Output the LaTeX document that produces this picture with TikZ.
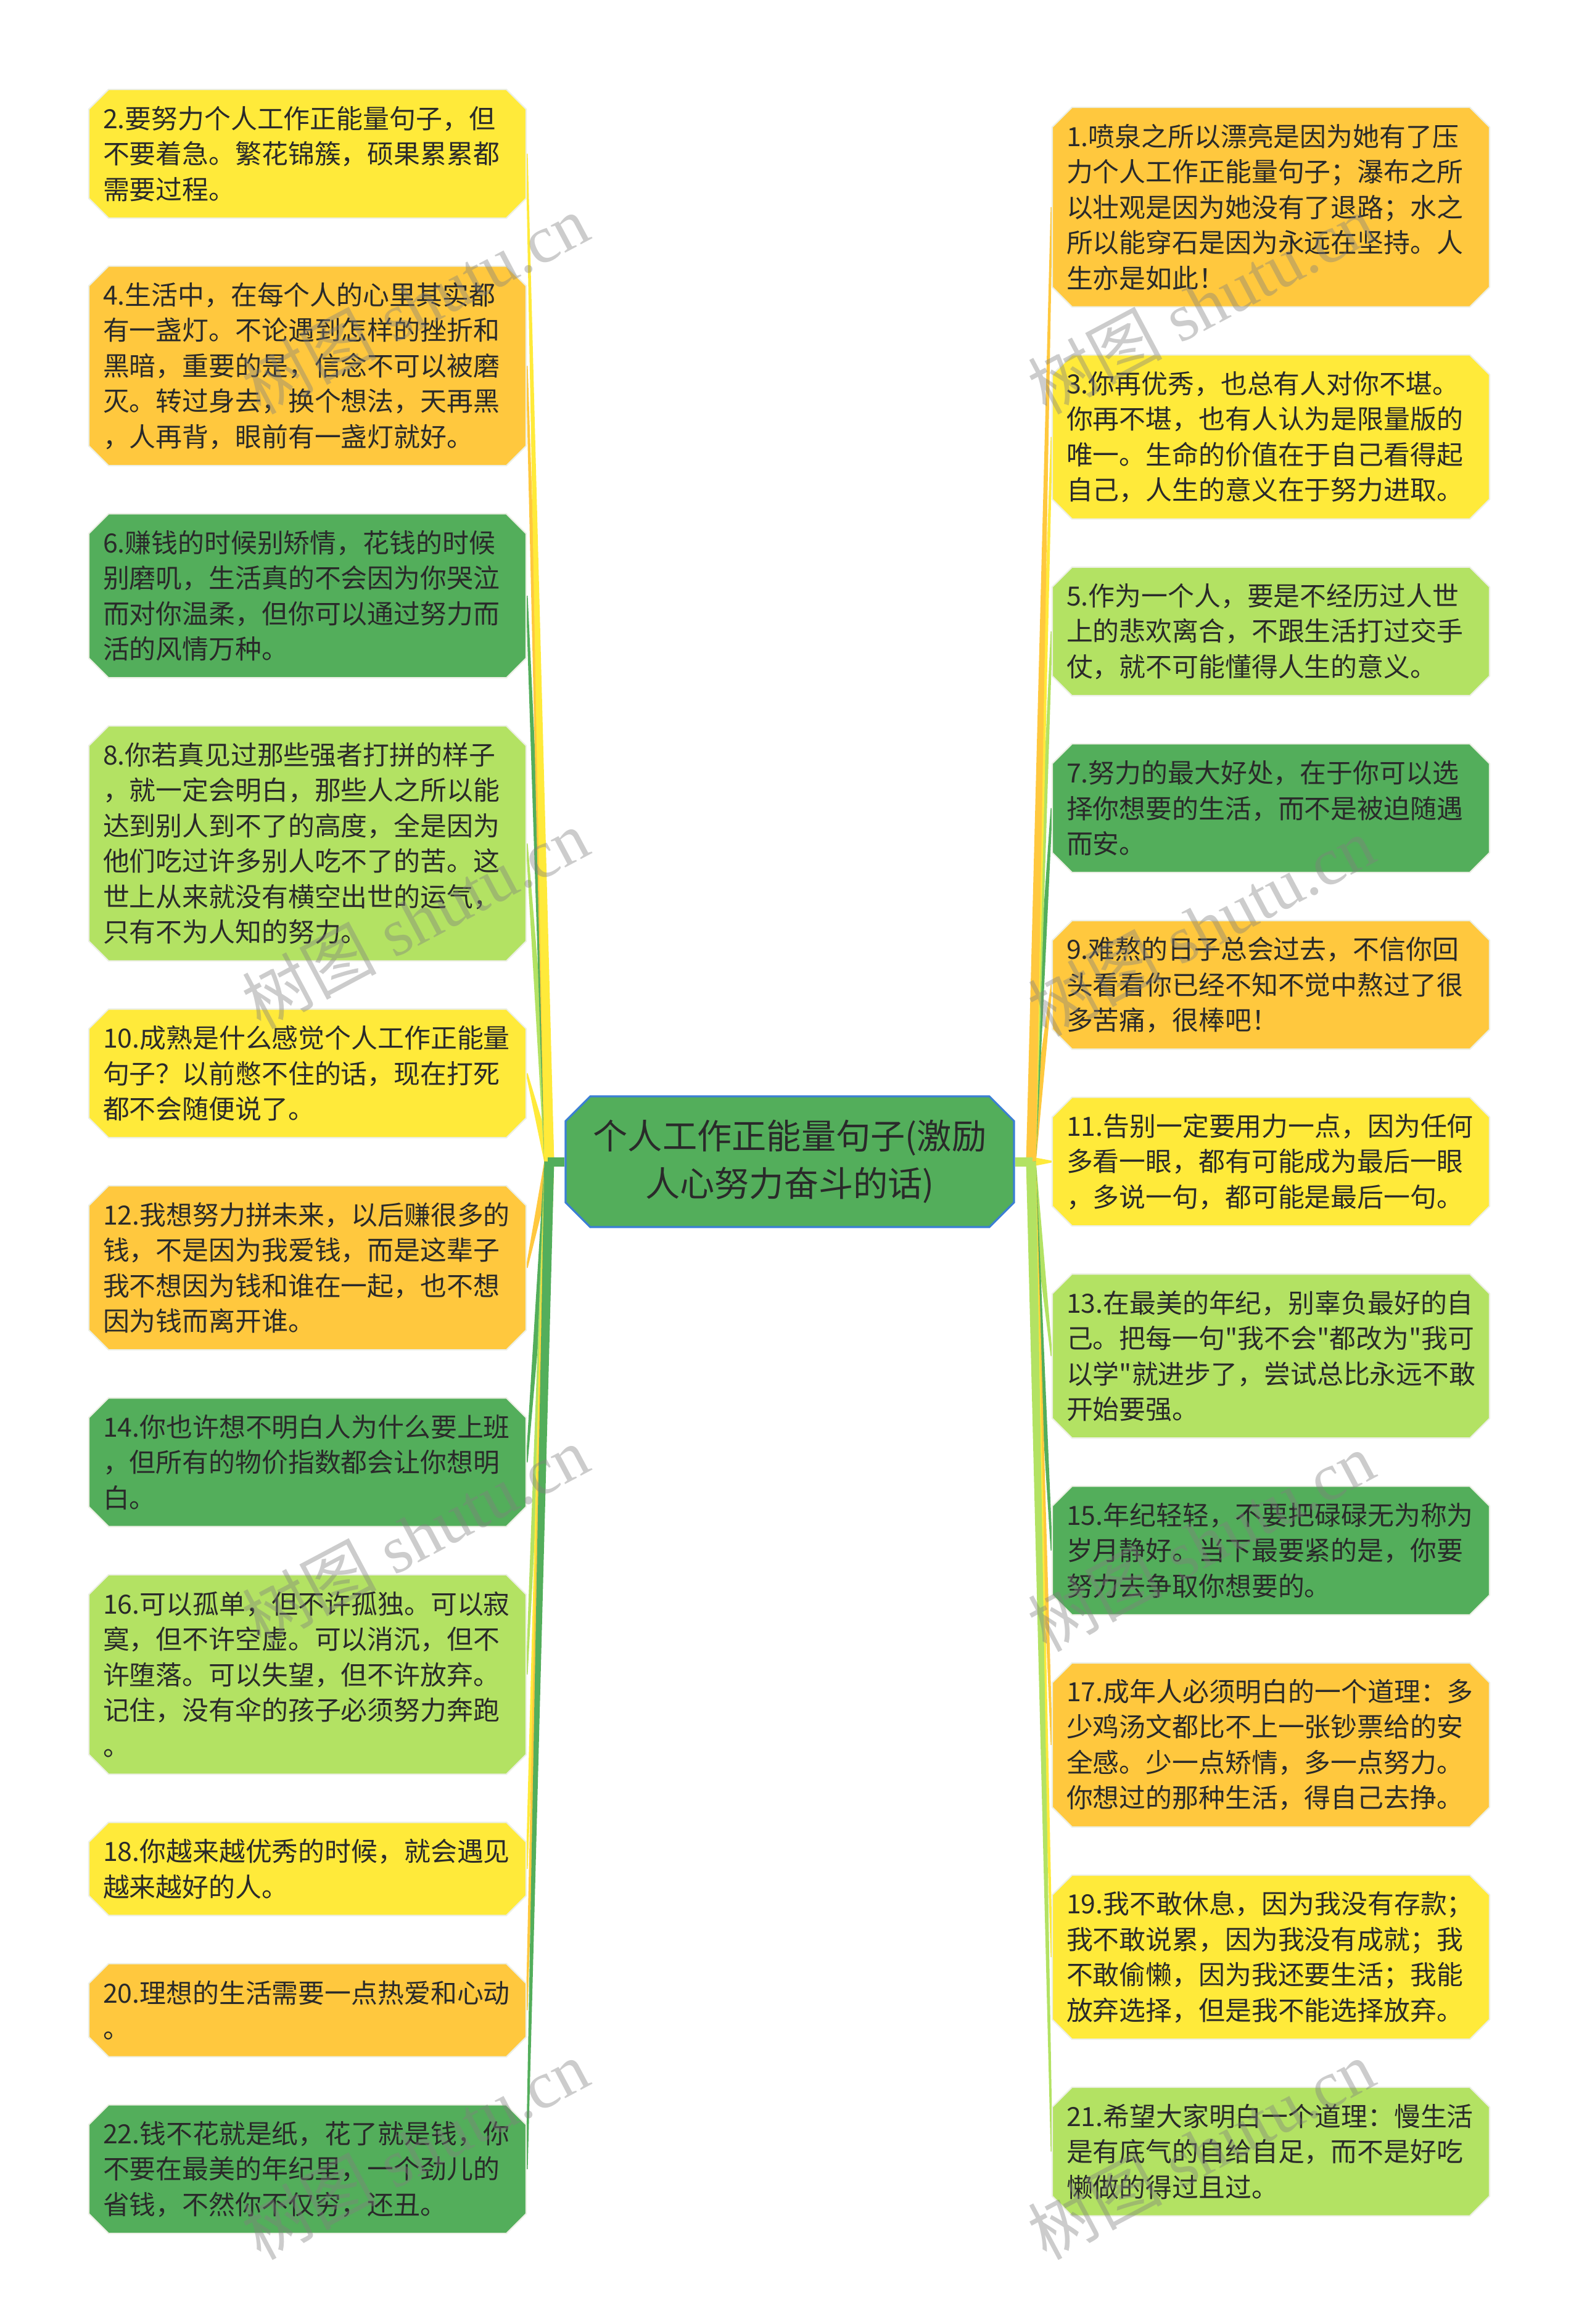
\documentclass[tikz,border=0pt]{standalone}
\usepackage{fontspec}
\newfontfamily\cjk{Noto Sans CJK SC}
\newfontfamily\wmserif{Liberation Serif}
\usetikzlibrary{positioning,calc,shapes.misc,backgrounds}
\definecolor{Sun}{HTML}{FFEA3A}
\definecolor{Amber}{HTML}{FFC83E}
\definecolor{Lime}{HTML}{B3E263}
\definecolor{Leaf}{HTML}{53AE5B}
\definecolor{Frame}{HTML}{3B7FD4}
\definecolor{Ink}{HTML}{2A2A2A}
\definecolor{Rim}{HTML}{ECEFE4}
\tikzset{
  quotebox/.style={chamfered rectangle,chamfered rectangle xsep=0.16cm,chamfered rectangle ysep=0.16cm,draw=Rim,line width=0.6pt,fill=#1,minimum width=7.08cm,text width=6.63cm,inner xsep=0.07cm,inner ysep=0pt,align=left,font=\cjk\fontsize{12.2pt}{16.36pt}\selectfont,text=Ink},
  nlines/.style={minimum height={#1*0.575cm+0.36cm}},
  topicbox/.style={chamfered rectangle,chamfered rectangle xsep=0.2cm,chamfered rectangle ysep=0.2cm,draw=Frame,line width=0.9pt,fill=Leaf,minimum width=7.27cm,minimum height=2.12cm,align=center,font=\cjk\fontsize{16pt}{21.8pt}\selectfont,text=Ink},
  stub/.style={line width=0.15cm},
  wmark/.style={rotate=28,text=black!50,text opacity=0.4,font=\wmserif\fontsize{31pt}{31pt}\selectfont}
}
\newcommand\branch[3]{\fill[#1] ($(#2)!0.08cm!90:(#3)$) -- ($(#3)!0.015cm!-90:(#2)$) -- ($(#3)!0.015cm!90:(#2)$) -- ($(#2)!0.08cm!-90:(#3)$) -- cycle;}

\begin{document}
\begin{tikzpicture}[node distance=0.76cm]
  \useasboundingbox (0,0) rectangle (25.6,-37.69);

  % centre
  \node[topicbox] (topic) at (12.805,-18.84) {个人工作正能量句子(激励\\人心努力奋斗的话)};
  \coordinate[left=0.25cm of topic] (lhub);
  \coordinate[right=0.26cm of topic] (rhub);

  % left column
  \node[quotebox=Sun,nlines=3,anchor=north] (q2) at (4.985,-1.44) {2.要努力个人工作正能量句子，但\\不要着急。繁花锦簇，硕果累累都\\需要过程。};
  \node[quotebox=Amber,nlines=5,below=of q2] (q4) {4.生活中，在每个人的心里其实都\\有一盏灯。不论遇到怎样的挫折和\\黑暗，重要的是，信念不可以被磨\\灭。转过身去，换个想法，天再黑\\，人再背，眼前有一盏灯就好。};
  \node[quotebox=Leaf,nlines=4,below=of q4] (q6) {6.赚钱的时候别矫情，花钱的时候\\别磨叽，生活真的不会因为你哭泣\\而对你温柔，但你可以通过努力而\\活的风情万种。};
  \node[quotebox=Lime,nlines=6,below=of q6] (q8) {8.你若真见过那些强者打拼的样子\\，就一定会明白，那些人之所以能\\达到别人到不了的高度，全是因为\\他们吃过许多别人吃不了的苦。这\\世上从来就没有横空出世的运气，\\只有不为人知的努力。};
  \node[quotebox=Sun,nlines=3,below=of q8] (q10) {10.成熟是什么感觉个人工作正能量\\句子？以前憋不住的话，现在打死\\都不会随便说了。};
  \node[quotebox=Amber,nlines=4,below=of q10] (q12) {12.我想努力拼未来，以后赚很多的\\钱，不是因为我爱钱，而是这辈子\\我不想因为钱和谁在一起，也不想\\因为钱而离开谁。};
  \node[quotebox=Leaf,nlines=3,below=of q12] (q14) {14.你也许想不明白人为什么要上班\\，但所有的物价指数都会让你想明\\白。};
  \node[quotebox=Lime,nlines=5,below=of q14] (q16) {16.可以孤单，但不许孤独。可以寂\\寞，但不许空虚。可以消沉，但不\\许堕落。可以失望，但不许放弃。\\记住，没有伞的孩子必须努力奔跑\\。};
  \node[quotebox=Sun,nlines=2,below=of q16] (q18) {18.你越来越优秀的时候，就会遇见\\越来越好的人。};
  \node[quotebox=Amber,nlines=2,below=of q18] (q20) {20.理想的生活需要一点热爱和心动\\。};
  \node[quotebox=Leaf,nlines=3,below=of q20] (q22) {22.钱不花就是纸，花了就是钱，你\\不要在最美的年纪里，一个劲儿的\\省钱，不然你不仅穷，还丑。};

  % right column
  \node[quotebox=Amber,nlines=5,anchor=north] (q1) at (20.605,-1.73) {1.喷泉之所以漂亮是因为她有了压\\力个人工作正能量句子；瀑布之所\\以壮观是因为她没有了退路；水之\\所以能穿石是因为永远在坚持。人\\生亦是如此！};
  \node[quotebox=Sun,nlines=4,below=of q1] (q3) {3.你再优秀，也总有人对你不堪。\\你再不堪，也有人认为是限量版的\\唯一。生命的价值在于自己看得起\\自己，人生的意义在于努力进取。};
  \node[quotebox=Lime,nlines=3,below=of q3] (q5) {5.作为一个人，要是不经历过人世\\上的悲欢离合，不跟生活打过交手\\仗，就不可能懂得人生的意义。};
  \node[quotebox=Leaf,nlines=3,below=of q5] (q7) {7.努力的最大好处，在于你可以选\\择你想要的生活，而不是被迫随遇\\而安。};
  \node[quotebox=Amber,nlines=3,below=of q7] (q9) {9.难熬的日子总会过去，不信你回\\头看看你已经不知不觉中熬过了很\\多苦痛，很棒吧！};
  \node[quotebox=Sun,nlines=3,below=of q9] (q11) {11.告别一定要用力一点，因为任何\\多看一眼，都有可能成为最后一眼\\，多说一句，都可能是最后一句。};
  \node[quotebox=Lime,nlines=4,below=of q11] (q13) {13.在最美的年纪，别辜负最好的自\\己。把每一句"我不会"都改为"我可\\以学"就进步了，尝试总比永远不敢\\开始要强。};
  \node[quotebox=Leaf,nlines=3,below=of q13] (q15) {15.年纪轻轻，不要把碌碌无为称为\\岁月静好。当下最要紧的是，你要\\努力去争取你想要的。};
  \node[quotebox=Amber,nlines=4,below=of q15] (q17) {17.成年人必须明白的一个道理：多\\少鸡汤文都比不上一张钞票给的安\\全感。少一点矫情，多一点努力。\\你想过的那种生活，得自己去挣。};
  \node[quotebox=Sun,nlines=4,below=of q17] (q19) {19.我不敢休息，因为我没有存款；\\我不敢说累，因为我没有成就；我\\不敢偷懒，因为我还要生活；我能\\放弃选择，但是我不能选择放弃。};
  \node[quotebox=Lime,nlines=3,below=of q19] (q21) {21.希望大家明白一个道理：慢生活\\是有底气的自给自足，而不是好吃\\懒做的得过且过。};

  % tapered branches under the boxes
  \begin{pgfonlayer}{background}
    \fill[white] (0,0) rectangle (25.6,-37.69);
    \foreach \q/\c in {q10/Sun,q8/Lime,q6/Leaf,q4/Amber,q2/Sun,q12/Amber,q14/Leaf,q16/Lime,q18/Sun,q20/Amber,q22/Leaf}
      \branch{\c}{lhub}{\q.east};
    \foreach \q/\c in {q11/Sun,q9/Amber,q7/Leaf,q5/Lime,q3/Sun,q1/Amber,q13/Lime,q15/Leaf,q17/Amber,q19/Sun,q21/Lime}
      \branch{\c}{rhub}{\q.west};
    \draw[stub,Leaf] (topic.west) -- ($(lhub)+(-0.02,0)$);
    \draw[stub,Lime] (topic.east) -- ($(rhub)+(0.02,0)$);
  \end{pgfonlayer}

  % watermarks
  \node[wmark] (wm1) at (6.73,-4.93) {{\cjk 树图} shutu.cn};
  \node[wmark] (wm2) at (6.73,-14.9) {{\cjk 树图} shutu.cn};
  \node[wmark] (wm3) at (6.73,-24.9) {{\cjk 树图} shutu.cn};
  \node[wmark] (wm4) at (6.73,-34.86) {{\cjk 树图} shutu.cn};
  \node[wmark] (wm5) at (19.47,-4.93) {{\cjk 树图} shutu.cn};
  \node[wmark] (wm6) at (19.47,-15.02) {{\cjk 树图} shutu.cn};
  \node[wmark] (wm7) at (19.47,-25.0) {{\cjk 树图} shutu.cn};
  \node[wmark] (wm8) at (19.47,-34.86) {{\cjk 树图} shutu.cn};
\end{tikzpicture}
\end{document}
